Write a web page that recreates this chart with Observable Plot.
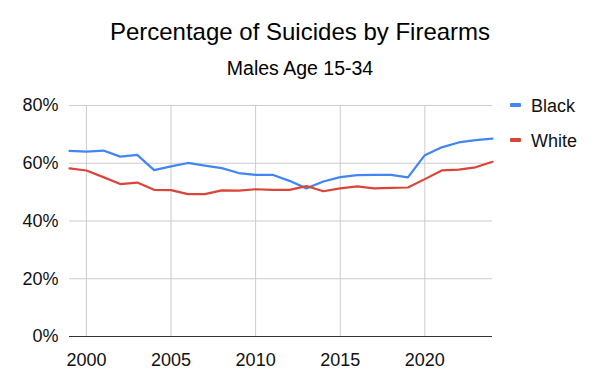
<!DOCTYPE html>
<html>
<head>
<meta charset="utf-8">
<script src="https://cdn.jsdelivr.net/npm/d3@7"></script>
<script src="https://cdn.jsdelivr.net/npm/@observablehq/plot@0.6"></script>
<style>
  body { margin: 0; background: #fff; font-family: "Liberation Sans", Arial, sans-serif; }
  #wrap { position: relative; width: 600px; height: 390px; }
  #chart { position: absolute; left: 0; top: 0; }
  .title { position: absolute; left: 0; width: 600px; text-align: center; color: #000; white-space: nowrap; }
  .leg { position: absolute; left: 510px; font-size: 18px; color: #111; white-space: nowrap; }
  .leg span.sw { display: inline-block; width: 11px; height: 4px; border-radius: 1px; vertical-align: middle; margin-right: 10px; position: relative; top: -2px; }
</style>
</head>
<body>
<div id="wrap">
  <div id="chart"></div>
  <div class="title" style="top:18px; font-size:24px;">Percentage of Suicides by Firearms</div>
  <div class="title" style="top:57px; font-size:19.5px;">Males Age 15-34</div>
  <div id="legend"></div>
</div>
<script>
const years = [1999,2000,2001,2002,2003,2004,2005,2006,2007,2008,2009,2010,2011,2012,2013,2014,2015,2016,2017,2018,2019,2020,2021,2022,2023,2024];
const black = [64.3,64.0,64.4,62.3,62.9,57.6,58.9,60.1,59.2,58.3,56.6,56.0,56.0,53.9,51.3,53.7,55.2,55.9,56.0,56.0,55.1,62.8,65.5,67.2,68.0,68.5];
const white = [58.2,57.5,55.2,52.8,53.3,50.8,50.7,49.3,49.3,50.6,50.5,51.0,50.8,50.8,52.1,50.3,51.3,52.0,51.3,51.5,51.6,54.5,57.5,57.8,58.6,60.5];
const seriesNames = ["Black", "White"];
const seriesColors = ["#4285F4", "#DB4437"];
const xTicks = [2000, 2005, 2010, 2015, 2020];
const yTicks = [0, 0.2, 0.4, 0.6, 0.8];

const seriesData = [black, white].map((vals, s) =>
  years.map((y, i) => ({year: y, value: vals[i] / 100, series: seriesNames[s]}))
);

const chart = Plot.plot({
  width: 600,
  height: 390,
  marginLeft: 69,
  marginRight: 108,
  marginTop: 105,
  marginBottom: 54,
  style: {fontSize: "18px", fontFamily: "'Liberation Sans', Arial, sans-serif", color: "#111", background: "#fff"},
  x: {domain: [1999, 2024], ticks: xTicks, tickFormat: d => String(d), tickSize: 0, tickPadding: 17, label: null},
  y: {domain: [0, 0.8], ticks: yTicks, tickFormat: d => Math.round(d * 100) + "%", tickSize: 0, tickPadding: 11, label: null},
  marks: [
    Plot.ruleX(xTicks, {stroke: "#cccccc", strokeWidth: 1}),
    Plot.ruleY(yTicks.filter(d => d > 0), {stroke: "#cccccc", strokeWidth: 1}),
    Plot.ruleY([0], {stroke: "#333333", strokeWidth: 1}),
    ...seriesData.map((data, s) =>
      Plot.line(data, {x: "year", y: "value", stroke: seriesColors[s], strokeWidth: 2.2, curve: "linear"})
    )
  ]
});
document.getElementById("chart").appendChild(chart);

const legend = document.getElementById("legend");
seriesNames.forEach((name, i) => {
  const d = document.createElement("div");
  d.className = "leg";
  d.style.top = (96 + i * 35) + "px";
  d.innerHTML = `<span class="sw" style="background:${seriesColors[i]}"></span>${name}`;
  legend.appendChild(d);
});
</script>
</body>
</html>
